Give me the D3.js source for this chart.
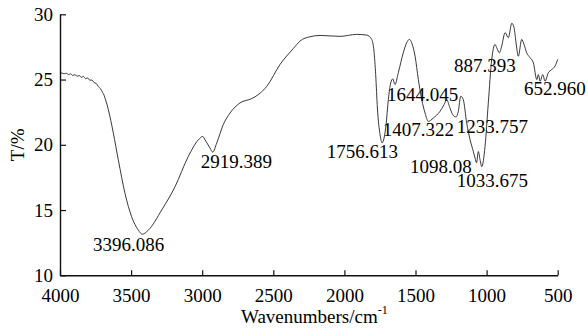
<!DOCTYPE html>
<html>
<head>
<meta charset="utf-8">
<script src="https://cdn.jsdelivr.net/npm/d3@7"></script>
<style>
  body { margin: 0; background: #fff; }
  svg { display: block; font-family: 'Liberation Serif', 'Times New Roman', serif; }
</style>
</head>
<body>
<script>
// Spectrum: wavenumber (cm-1) and transmittance (%)
const wavenumbers = [
  4000, 3985, 3970, 3955, 3940, 3925, 3910, 3895, 3880, 3865, 3850, 3835, 3820, 3805,
  3790, 3775, 3760, 3745, 3730, 3715, 3700, 3690, 3680, 3670, 3660, 3625, 3590, 3543,
  3496, 3449, 3421, 3379, 3285, 3191, 3098, 3027, 2996, 2980, 2945, 2926, 2898, 2852,
  2804, 2734, 2652, 2605, 2546, 2453, 2359, 2312, 2242, 2171, 2031, 1913, 1843, 1808,
  1792, 1780, 1768, 1749, 1735, 1721, 1707, 1691, 1674, 1660, 1644, 1621, 1586, 1562,
  1543, 1527, 1503, 1480, 1456, 1433, 1410, 1375, 1328, 1299, 1280, 1262, 1238, 1215,
  1199, 1182, 1164, 1140, 1116, 1093, 1081, 1071, 1058, 1046, 1034, 1011, 988, 964,
  941, 929, 910, 894, 870, 847, 823, 807, 793, 777, 753, 737, 718, 694, 671, 647, 636,
  624, 605, 589, 566, 542, 519, 500
];
const transmittance = [
  25.52, 25.49, 25.45, 25.48, 25.38, 25.43, 25.31, 25.38, 25.25, 25.31, 25.17, 25.24, 25.07, 25.12,
  24.95, 24.96, 24.76, 24.70, 24.45, 24.30, 24.00, 23.80, 23.45, 23.10, 22.69, 20.90, 18.85, 16.28,
  14.48, 13.46, 13.15, 13.46, 15.00, 16.79, 19.10, 20.38, 20.64, 20.38, 19.75, 19.44, 20.13, 21.54,
  22.44, 23.21, 23.54, 23.85, 24.48, 26.15, 27.38, 27.95, 28.28, 28.38, 28.31, 28.46, 28.41, 28.08,
  27.18, 25.38, 22.82, 20.77, 20.15, 20.52, 21.54, 23.46, 24.75, 25.05, 24.62, 25.52, 27.05, 27.82,
  28.08, 27.82, 26.79, 25.00, 23.46, 22.44, 21.79, 22.05, 22.56, 23.08, 23.46, 22.95, 22.31, 22.13,
  22.56, 23.72, 23.46, 21.67, 20.38, 19.48, 18.98, 18.62, 19.48, 18.85, 18.33, 19.87, 23.21, 26.54,
  27.69, 27.44, 27.05, 27.56, 28.59, 28.21, 29.31, 28.98, 27.82, 26.79, 28.08, 27.69, 27.05, 26.67, 26.28, 25.00, 25.38,
  24.87, 25.38, 24.87, 25.52, 25.77, 26.03, 26.54
];

// Peak labels and where their text starts (wavenumber, transmittance)
const peakLabels = ['3396.086', '2919.389', '1756.613', '1644.045', '1407.322', '1233.757', '1098.08', '1033.675', '887.393', '652.960'];
const peakLabelW = [3768, 3010, 2124, 1700, 1730, 1210, 1538, 1210, 1229, 737];
const peakLabelT = [11.85, 18.23, 19.0, 23.33, 20.64, 20.92, 17.87, 16.79, 25.56, 23.85];

const xTicks = [4000, 3500, 3000, 2500, 2000, 1500, 1000, 500];
const yTicks = [10, 15, 20, 25, 30];

const width = 588;
const height = 330;
const fontSize = 19;

const x = d3.scaleLinear().domain([4000, 500]).range([60, 557.7]);
const y = d3.scaleLinear().domain([10, 30]).range([275.3, 14.3]);

const svg = d3.select('body').append('svg')
  .attr('width', width)
  .attr('height', height)
  .attr('viewBox', [0, 0, width, height]);

// spectrum line
const data = wavenumbers.map((w, i) => [w, transmittance[i]]);
svg.append('path')
  .datum(data)
  .attr('fill', 'none')
  .attr('stroke', '#222')
  .attr('stroke-width', 0.9)
  .attr('d', d3.line()
    .x((d) => x(d[0]))
    .y((d) => y(d[1]))
    .curve(d3.curveMonotoneX));

const styleAxis = (g) => {
  g.attr('font-family', null).attr('font-size', fontSize);
  g.select('.domain').attr('stroke', '#111').attr('stroke-width', 1.4);
  g.selectAll('.tick line').attr('stroke', '#111').attr('stroke-width', 1.2);
  g.selectAll('.tick text').attr('fill', '#000');
};

// x axis, ticks pointing inward
svg.append('g')
  .attr('transform', `translate(0,${y(10)})`)
  .call(d3.axisBottom(x).tickValues(xTicks).tickFormat(d3.format('d'))
    .tickSizeInner(-5).tickSizeOuter(0).tickPadding(13))
  .call(styleAxis);

// y axis
svg.append('g')
  .attr('transform', `translate(${x(4000)},0)`)
  .call(d3.axisLeft(y).tickValues(yTicks).tickFormat(d3.format('d'))
    .tickSizeInner(-6).tickSizeOuter(0).tickPadding(7))
  .call(styleAxis);

// peak annotations
svg.append('g')
  .selectAll('text')
  .data(peakLabels)
  .join('text')
  .attr('x', (d, i) => x(peakLabelW[i]))
  .attr('y', (d, i) => y(peakLabelT[i]))
  .attr('font-size', fontSize)
  .attr('fill', '#000')
  .text((d) => d);

// axis titles
const xTitle = svg.append('text')
  .attr('x', 241)
  .attr('y', 323)
  .attr('font-size', fontSize)
  .attr('fill', '#000');
xTitle.append('tspan').text('Wavenumbers/cm');
xTitle.append('tspan').attr('font-size', 12).attr('dy', -9).text('-1');

svg.append('text')
  .attr('transform', `translate(24,${(y(10) + y(30)) / 2}) rotate(-90)`)
  .attr('text-anchor', 'middle')
  .attr('font-size', fontSize)
  .attr('fill', '#000')
  .text('T/%');
</script>
</body>
</html>
